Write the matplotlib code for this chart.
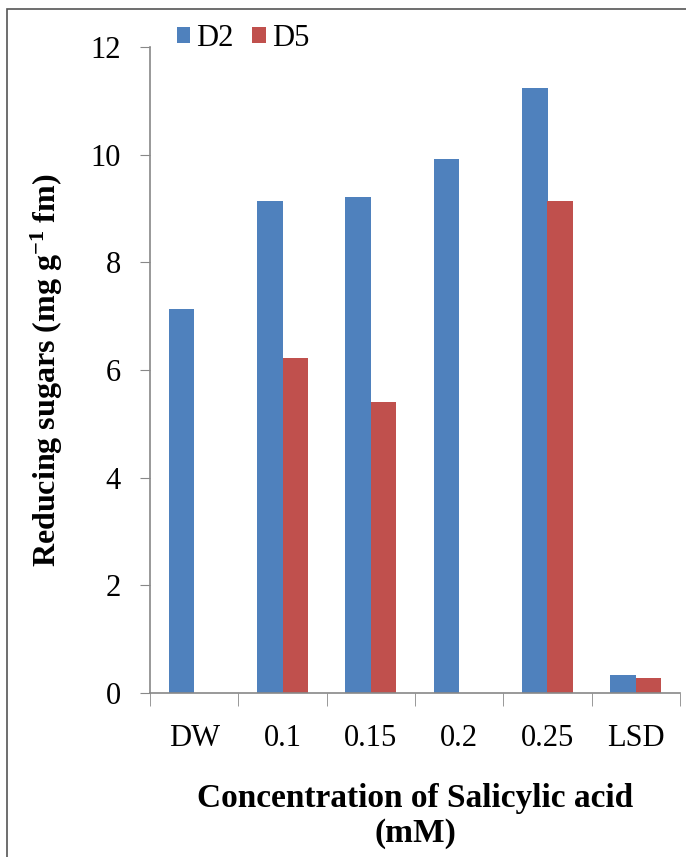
import numpy as np
import matplotlib.pyplot as plt
from matplotlib.patches import Rectangle

categories = ['DW', '0.1', '0.15', '0.2', '0.25', 'LSD']
d2_values = [7.13, 9.14, 9.21, 9.92, 11.24, 0.33]
d5_values = [0.0, 6.22, 5.41, 0.0, 9.14, 0.28]
y_ticks = [0, 2, 4, 6, 8, 10, 12]

plt.rcParams['font.family'] = ['Liberation Serif', 'DejaVu Serif']
plt.rcParams['mathtext.default'] = 'regular'

fig = plt.figure(figsize=(6.86, 8.57), dpi=100)
fig.patches.append(Rectangle((7 / 686, -0.1), 1.2, 1 - 9 / 857 + 0.1,
                             transform=fig.transFigure, fill=False,
                             edgecolor='#555555', linewidth=1.2))

ax = fig.add_axes([150 / 686, 1 - 693 / 857, 530 / 686, (693 - 47) / 857])

x = np.arange(len(categories))
w = 0.29
ax.bar(x - w / 2, d2_values, width=w, color='#4F81BD', label='D2')
ax.bar(x + w / 2, d5_values, width=w, color='#C0504D', label='D5')

ax.set_xlim(-0.5, len(categories) - 0.5)
ax.set_ylim(0, 12)
ax.set_yticks(y_ticks)
ax.set_xticks(x)
ax.set_xticklabels(categories)
ax.set_xticks(np.arange(len(categories) + 1) - 0.5, minor=True)
ax.tick_params(axis='x', which='major', length=0, pad=22, labelsize=22)
ax.tick_params(axis='x', which='minor', length=9, color='#888888', direction='out')
ax.tick_params(axis='y', length=7, color='#888888', labelsize=22, pad=14)

for s in ['top', 'right']:
    ax.spines[s].set_visible(False)
for s in ['left', 'bottom']:
    ax.spines[s].set_color('#888888')
    ax.spines[s].set_linewidth(1.2)

ax.set_ylabel('Reducing sugars (mg g$^{-1}$ fm)', fontsize=23,
              fontweight='bold', labelpad=18)
ax.set_xlabel('Concentration of Salicylic acid\n(mM)', fontsize=24,
              fontweight='bold', labelpad=22, linespacing=1.15)

ax.legend(loc='upper left', bbox_to_anchor=(0.027, 1.055), ncol=2, frameon=False,
          fontsize=22, handlelength=0.45, handleheight=0.45, handletextpad=0.2,
          columnspacing=0.6, borderaxespad=0)

fig.savefig('out.png', dpi=100)
